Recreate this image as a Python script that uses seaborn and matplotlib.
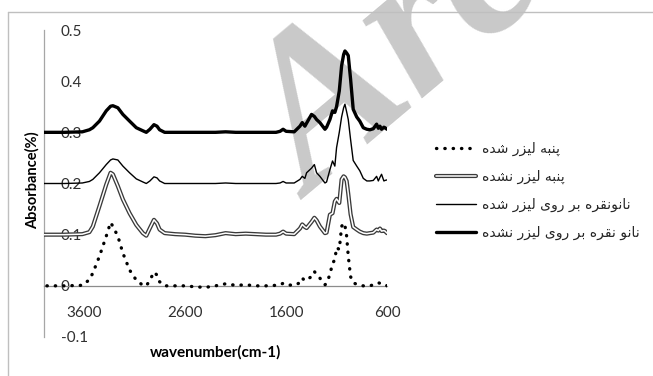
import matplotlib
matplotlib.use("Agg")
import matplotlib.pyplot as plt
import seaborn as sns
import pandas as pd
from matplotlib.lines import Line2D

# ---------------- data ----------------
wavenumber = [4000, 3800, 3620, 3550, 3516, 3450, 3383, 3340, 3317, 3268,
              3218, 3152, 3085, 3020, 2986, 2950, 2910, 2880, 2854, 2804,
              2700, 2600, 2500, 2400, 2300, 2200, 2100, 2000, 1900, 1800,
              1700, 1660, 1630, 1600, 1520, 1463, 1440, 1414, 1397, 1348,
              1320, 1298, 1265, 1215, 1199, 1166, 1140, 1117, 1100, 1073,
              1050, 1030, 1017, 1000, 984, 961, 935, 900, 870, 835,
              800, 770, 736, 703, 686, 670, 654, 631, 620, 600]

cotton_laser = [0.000, 0.000, 0.001, 0.012, 0.025, 0.058, 0.097, 0.124, 0.116, 0.097,
                0.064, 0.031, 0.011, 0.001, 0.000, 0.011, 0.027, 0.021, 0.008, 0.000,
                0.000, 0.000, -0.002, -0.003, 0.000, 0.004, 0.001, 0.002, 0.000, 0.000,
                0.001, 0.002, 0.005, 0.002, 0.001, 0.006, 0.015, 0.010, 0.012, 0.018,
                0.028, 0.022, 0.015, 0.002, 0.005, 0.022, 0.044, 0.051, 0.075, 0.071,
                0.116, 0.123, 0.118, 0.097, 0.058, 0.018, 0.006, 0.003, 0.001, 0.000,
                0.000, 0.000, 0.002, 0.005, 0.006, 0.005, 0.004, 0.004, 0.003, 0.000]

cotton_nolaser = [0.100, 0.100, 0.101, 0.105, 0.116, 0.156, 0.198, 0.221, 0.218, 0.195,
                  0.169, 0.142, 0.119, 0.103, 0.098, 0.113, 0.129, 0.122, 0.110, 0.103,
                  0.101, 0.100, 0.098, 0.097, 0.099, 0.103, 0.101, 0.102, 0.101, 0.100,
                  0.100, 0.102, 0.106, 0.102, 0.101, 0.112, 0.120, 0.115, 0.113, 0.125,
                  0.133, 0.128, 0.116, 0.103, 0.104, 0.139, 0.142, 0.165, 0.170, 0.162,
                  0.208, 0.214, 0.212, 0.205, 0.180, 0.140, 0.115, 0.110, 0.106, 0.103,
                  0.102, 0.103, 0.104, 0.110, 0.108, 0.112, 0.107, 0.108, 0.107, 0.103]

nanosilver_laser = [0.200, 0.200, 0.201, 0.204, 0.208, 0.221, 0.237, 0.246, 0.248, 0.246,
                    0.234, 0.221, 0.209, 0.203, 0.200, 0.205, 0.213, 0.211, 0.205, 0.200,
                    0.200, 0.200, 0.200, 0.200, 0.200, 0.201, 0.200, 0.200, 0.200, 0.200,
                    0.200, 0.201, 0.204, 0.201, 0.201, 0.208, 0.214, 0.210, 0.221, 0.230,
                    0.237, 0.221, 0.214, 0.201, 0.203, 0.227, 0.244, 0.234, 0.270, 0.300,
                    0.330, 0.348, 0.355, 0.340, 0.325, 0.286, 0.245, 0.234, 0.225, 0.210,
                    0.205, 0.205, 0.206, 0.214, 0.205, 0.212, 0.218, 0.205, 0.206, 0.207]

nanosilver_nolaser = [0.300, 0.300, 0.301, 0.305, 0.309, 0.322, 0.342, 0.351, 0.352, 0.348,
                      0.335, 0.322, 0.309, 0.303, 0.300, 0.306, 0.315, 0.312, 0.305, 0.300,
                      0.300, 0.300, 0.300, 0.300, 0.300, 0.301, 0.300, 0.300, 0.300, 0.300,
                      0.300, 0.302, 0.306, 0.302, 0.301, 0.312, 0.319, 0.312, 0.318, 0.335,
                      0.331, 0.325, 0.319, 0.306, 0.310, 0.325, 0.342, 0.339, 0.350, 0.381,
                      0.430, 0.452, 0.459, 0.455, 0.450, 0.404, 0.345, 0.330, 0.322, 0.309,
                      0.306, 0.305, 0.307, 0.316, 0.308, 0.312, 0.306, 0.310, 0.309, 0.306]

series_labels = ["پنبه لیزر شده", "پنبه لیزر نشده",
                 "نانونقره بر روی لیزر شده", "نانو نقره بر روی لیزر نشده"]

x_ticks = [3600, 2600, 1600, 600]
y_ticks = [-0.1, 0, 0.1, 0.2, 0.3, 0.4, 0.5]
y_tick_labels = ["-0.1", "0", "0.1", "0.2", "0.3", "0.4", "0.5"]

# ---------------- Persian display shaping ----------------
FORMS = {
    'ا': ('\uFE8D', '\uFE8E', None, None),
    'ب': ('\uFE8F', '\uFE90', '\uFE91', '\uFE92'),
    'پ': ('\uFB56', '\uFB57', '\uFB58', '\uFB59'),
    'د': ('\uFEA9', '\uFEAA', None, None),
    'ر': ('\uFEAD', '\uFEAE', None, None),
    'ز': ('\uFEAF', '\uFEB0', None, None),
    'ش': ('\uFEB5', '\uFEB6', '\uFEB7', '\uFEB8'),
    'ق': ('\uFED5', '\uFED6', '\uFED7', '\uFED8'),
    'ل': ('\uFEDD', '\uFEDE', '\uFEDF', '\uFEE0'),
    'ن': ('\uFEE5', '\uFEE6', '\uFEE7', '\uFEE8'),
    'ه': ('\uFEE9', '\uFEEA', '\uFEEB', '\uFEEC'),
    'و': ('\uFEED', '\uFEEE', None, None),
    'ی': ('\uFBFC', '\uFBFD', '\uFBFE', '\uFBFF'),
}


def shape_fa(s):
    out = []
    for i, c in enumerate(s):
        if c not in FORMS:
            out.append(c)
            continue
        f = FORMS[c]
        prev = s[i - 1] if i > 0 else None
        nxt = s[i + 1] if i + 1 < len(s) else None
        jp = prev in FORMS and FORMS[prev][2] is not None
        jn = f[2] is not None and nxt in FORMS
        if jp and jn:
            out.append(f[3])
        elif jp:
            out.append(f[1])
        elif jn:
            out.append(f[2])
        else:
            out.append(f[0])
    return ''.join(reversed(out))


# ---------------- figure ----------------
sns.set_style("white")
plt.rcParams['font.family'] = ['Lato', 'DejaVu Sans']

W, H = 653, 376
fig = plt.figure(figsize=(W / 100, H / 100), dpi=100)
ax = fig.add_axes([44 / W, 1 - 337 / H, (387 - 44) / W, (337 - 30) / H])
ax.set_facecolor('none')

df = pd.DataFrame({
    'wn': wavenumber,
    'cotton_laser': cotton_laser,
    'cotton_nolaser': cotton_nolaser,
    'nanosilver_laser': nanosilver_laser,
    'nanosilver_nolaser': nanosilver_nolaser,
})

# watermark (grey, behind the data)
ax.text(312 / W, 1 - 200 / H, "Arc", transform=fig.transFigure,
        rotation=40, fontsize=155, color='#c9c9c9', family='Liberation Serif',
        style='italic', weight='bold', ha='left', va='baseline',
        zorder=1, clip_on=False, rotation_mode='anchor')

# series 1: dotted
sns.lineplot(data=df, x='wn', y='cotton_laser', ax=ax, color='black',
             linewidth=2.4, zorder=3)
l1 = ax.lines[-1]
l1.set_dashes((0.1, 2.4))
l1.set_dash_capstyle('round')

# series 2: double line
sns.lineplot(data=df, x='wn', y='cotton_nolaser', ax=ax, color='#3a3a3a',
             linewidth=3.0, zorder=3)
sns.lineplot(data=df, x='wn', y='cotton_nolaser', ax=ax, color='white',
             linewidth=1.1, zorder=3.1)

# series 3: thin
sns.lineplot(data=df, x='wn', y='nanosilver_laser', ax=ax, color='black',
             linewidth=1.0, zorder=3.2)

# series 4: thick
sns.lineplot(data=df, x='wn', y='nanosilver_nolaser', ax=ax, color='black',
             linewidth=2.4, zorder=3.3)

ax.set_xlim(4000, 600)
ax.set_ylim(-0.1, 0.5)

for s in ['top', 'right']:
    ax.spines[s].set_visible(False)
ax.spines['bottom'].set_position(('data', 0))
ax.spines['bottom'].set_color('#8c8c8c')
ax.spines['bottom'].set_linewidth(0.9)
ax.spines['left'].set_color('#a6a6a6')
ax.spines['left'].set_linewidth(0.9)

ax.set_xticks(x_ticks)
ax.set_xticklabels([str(t) for t in x_ticks])
ax.set_yticks(y_ticks)
ax.set_yticklabels(y_tick_labels)

ax.tick_params(axis='x', direction='out', length=3.5, width=0.8,
               color='#8c8c8c', pad=11, labelsize=11, labelcolor='#303030')
ax.tick_params(axis='y', direction='in', length=3.5, width=0.8,
               color='#a6a6a6', pad=-12, labelsize=11, labelcolor='#303030')
for lab in ax.get_yticklabels():
    lab.set_horizontalalignment('left')

ax.set_xlabel('wavenumber(cm-1)', fontsize=11, fontweight='bold', color='black')
ax.xaxis.set_label_coords((216 - 44) / (387 - 44), (337 - 352) / (337 - 30))
ax.xaxis.label.set_va('center')
ax.set_ylabel('Absorbance(%)', fontsize=10.5, fontweight='bold', color='black')
ax.yaxis.set_label_coords((32 - 44) / (387 - 44), (337 - 180) / (337 - 30))
ax.yaxis.label.set_va('center')

# chart-area border (top and left edges visible)
fig.add_artist(Line2D([8 / W, 8 / W], [0, 1 - 12 / H], transform=fig.transFigure,
                      color='#bfbfbf', linewidth=1.0))
fig.add_artist(Line2D([8 / W, 1], [1 - 12 / H, 1 - 12 / H], transform=fig.transFigure,
                      color='#bfbfbf', linewidth=1.0))

# legend
h1 = Line2D([], [], color='black', linewidth=2.4, dashes=(0.1, 2.4),
            dash_capstyle='round')
h2a = Line2D([], [], color='#3a3a3a', linewidth=3.0)
h2b = Line2D([], [], color='white', linewidth=1.1)
h3 = Line2D([], [], color='black', linewidth=1.0)
h4 = Line2D([], [], color='black', linewidth=2.4)
leg = fig.legend([h1, (h2a, h2b), h3, h4], [shape_fa(s) for s in series_labels],
                 loc='upper left', bbox_to_anchor=(436 / W, 1 - 142 / H),
                 frameon=False, handlelength=2.9, handletextpad=0.4,
                 labelspacing=1.0, borderpad=0, borderaxespad=0,
                 prop={'family': ['DejaVu Sans'], 'size': 10})

fig.savefig('out.png', dpi=100)
